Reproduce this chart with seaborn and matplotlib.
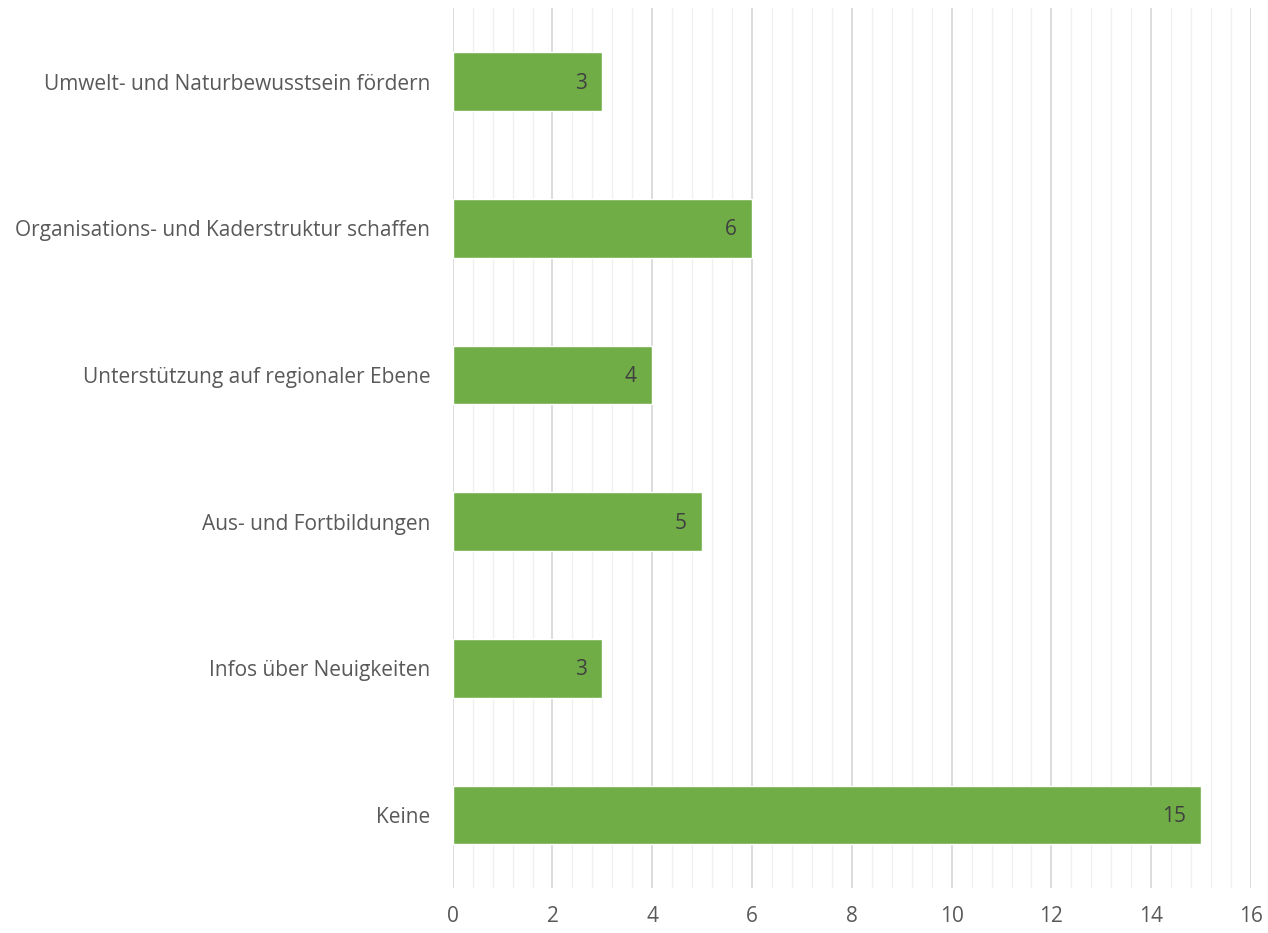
import matplotlib
matplotlib.use("Agg")
import matplotlib.pyplot as plt
import seaborn as sns
import pandas as pd
from matplotlib.ticker import MultipleLocator

categories = [
    "Umwelt- und Naturbewusstsein fördern",
    "Organisations- und Kaderstruktur schaffen",
    "Unterstützung auf regionaler Ebene",
    "Aus- und Fortbildungen",
    "Infos über Neuigkeiten",
    "Keine",
]
values = [3, 6, 4, 5, 3, 15]
x_ticks = [0, 2, 4, 6, 8, 10, 12, 14, 16]

df = pd.DataFrame({"cat": categories, "val": values})

sns.set_style("white")
plt.rcParams["font.family"] = ["Open Sans", "DejaVu Sans"]

fig = plt.figure(figsize=(12.68, 9.33), dpi=100)
ax = fig.add_axes([0.357, 0.048, 0.6296, 0.943])

sns.barplot(data=df, x="val", y="cat", orient="h", color="#70AD47",
            width=0.4, ax=ax, saturation=1, zorder=3)

ax.set_xlim(0, 16)
ax.set_xticks(x_ticks)
ax.xaxis.set_minor_locator(MultipleLocator(0.4))
ax.grid(axis="x", which="major", color="#D9D9D9", linewidth=1.3, zorder=0)
ax.grid(axis="x", which="minor", color="#F0F0F0", linewidth=1.0, zorder=0)
ax.set_axisbelow(True)
for s in ax.spines.values():
    s.set_visible(False)
ax.set_xlabel("")
ax.set_ylabel("")
ax.tick_params(axis="both", which="both", length=0, labelcolor="#595959", labelsize=15)
ax.tick_params(axis="x", pad=13)
ax.tick_params(axis="y", pad=16)

for i, v in enumerate(values):
    ax.annotate(str(v), xy=(v, i), xytext=(-11, -1), textcoords="offset points",
                ha="right", va="center", color="#404040", fontsize=15)

fig.savefig("out.png", dpi=100)
